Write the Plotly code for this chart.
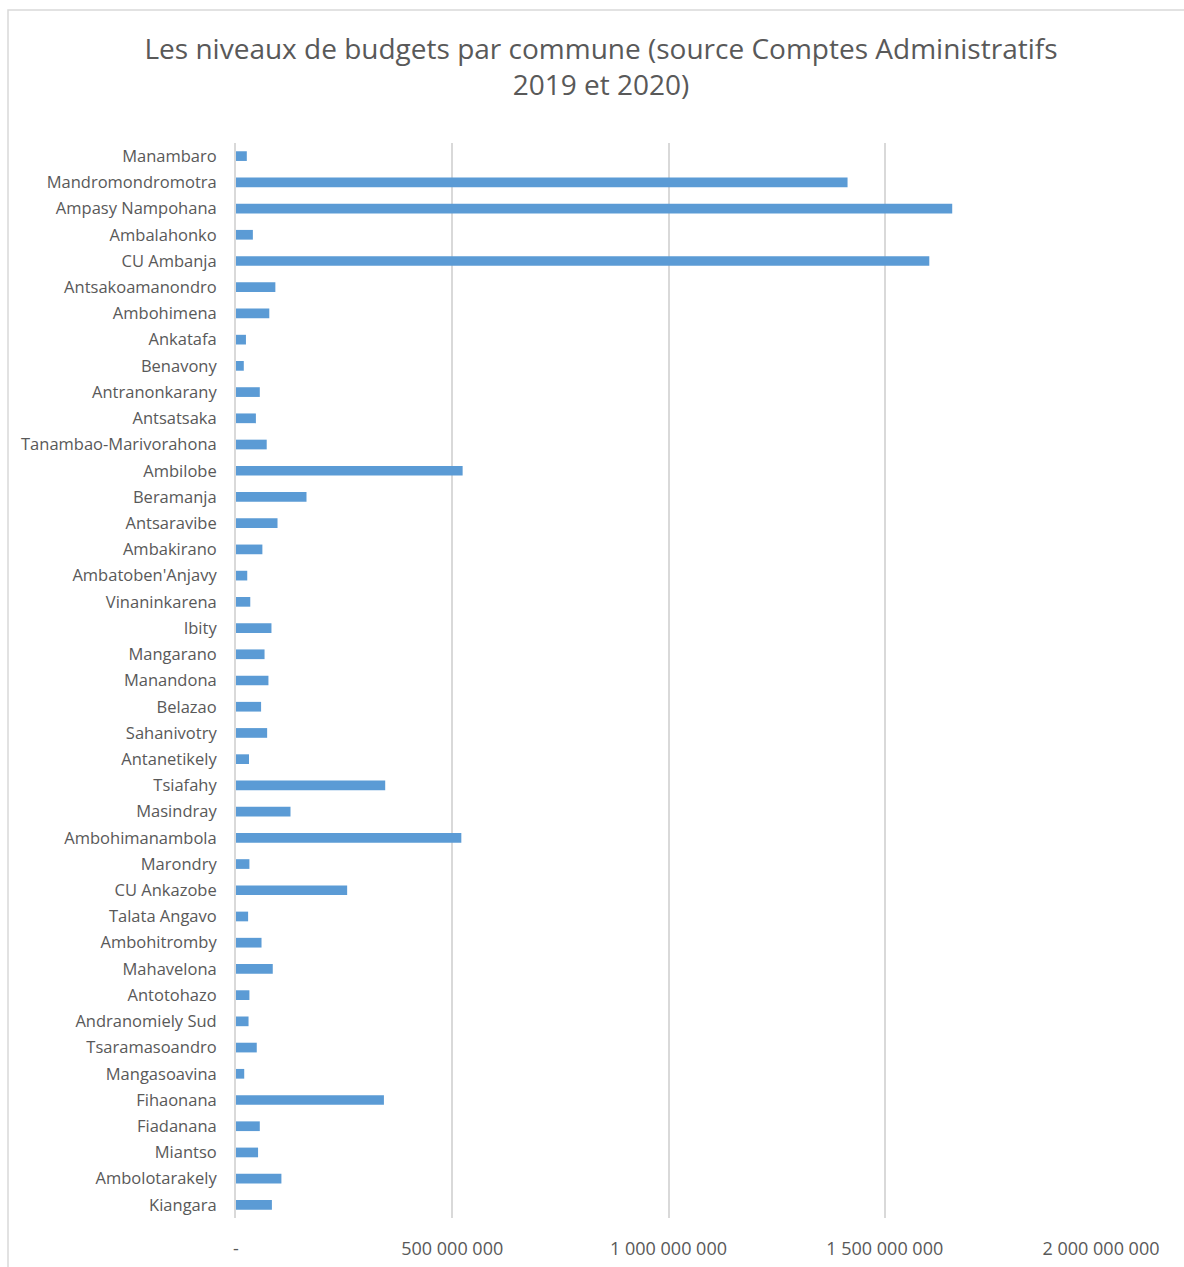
import plotly.graph_objects as go

communes = [
    "Manambaro", "Mandromondromotra", "Ampasy Nampohana", "Ambalahonko", "CU Ambanja",
    "Antsakoamanondro", "Ambohimena", "Ankatafa", "Benavony", "Antranonkarany",
    "Antsatsaka", "Tanambao-Marivorahona", "Ambilobe", "Beramanja", "Antsaravibe",
    "Ambakirano", "Ambatoben'Anjavy", "Vinaninkarena", "Ibity", "Mangarano",
    "Manandona", "Belazao", "Sahanivotry", "Antanetikely", "Tsiafahy",
    "Masindray", "Ambohimanambola", "Marondry", "CU Ankazobe", "Talata Angavo",
    "Ambohitromby", "Mahavelona", "Antotohazo", "Andranomiely Sud", "Tsaramasoandro",
    "Mangasoavina", "Fihaonana", "Fiadanana", "Miantso", "Ambolotarakely", "Kiangara",
]

budgets = [
    25e6, 1414e6, 1656e6, 39e6, 1603e6,
    91e6, 77e6, 23e6, 18e6, 55e6,
    46e6, 71e6, 524e6, 163e6, 96e6,
    61e6, 26e6, 33e6, 82e6, 66e6,
    75e6, 58e6, 72e6, 30e6, 345e6,
    126e6, 521e6, 31e6, 257e6, 28e6,
    59e6, 85e6, 31e6, 29e6, 48e6,
    19e6, 342e6, 55e6, 51e6, 105e6, 83e6,
]

tick_values = [0, 500e6, 1000e6, 1500e6, 2000e6]
tick_labels = ["-", "500 000 000", "1 000 000 000", "1 500 000 000", "2 000 000 000"]

title_text = "Les niveaux de budgets par commune (source Comptes Administratifs<br>2019 et 2020)"

FONT = "Open Sans, sans-serif"
TXT = "#595959"

fig = go.Figure(
    go.Bar(
        x=budgets,
        y=communes,
        orientation="h",
        marker=dict(color="#5B9BD5", line=dict(width=0)),
        width=0.37,
    )
)

W, H = 1184, 1267
L, R, T, B = 236, 83, 143, 49
pw = W - L - R
ph = H - T - B

fig.update_layout(
    width=W,
    height=H,
    margin=dict(l=L, r=R, t=T, b=B, pad=0, autoexpand=False),
    paper_bgcolor="white",
    plot_bgcolor="white",
    showlegend=False,
    font=dict(family=FONT, color=TXT),
    title=dict(
        text=title_text,
        x=601 / W,
        xref="container",
        xanchor="center",
        y=1 - 59 / H,
        yref="container",
        yanchor="top",
        font=dict(size=28, color=TXT, family=FONT),
    ),
    xaxis=dict(
        range=[0, 2000e6],
        tickvals=tick_values,
        ticktext=tick_labels,
        showgrid=True,
        gridcolor="#d9d9d9",
        gridwidth=1.5,
        zeroline=False,
        showline=False,
        ticks="outside",
        ticklen=14,
        tickcolor="rgba(0,0,0,0)",
        tickfont=dict(size=18, color=TXT, family=FONT),
        fixedrange=True,
        automargin=False,
    ),
    yaxis=dict(
        categoryorder="array",
        categoryarray=communes,
        autorange="reversed",
        showgrid=False,
        showline=True,
        linecolor="#d9d9d9",
        linewidth=2,
        ticks="outside",
        ticklen=14,
        tickcolor="rgba(0,0,0,0)",
        tickfont=dict(size=16.5, color=TXT, family=FONT),
        fixedrange=True,
        automargin=False,
    ),
    bargap=0.63,
)

# chart-area border (as in the source, partly cropped at right/bottom)
x0 = (8 - L) / pw
x1 = (1195 - L) / pw
y1 = (H - B - 10) / ph
y0 = (H - B - 1280) / ph
fig.add_shape(
    type="rect", xref="paper", yref="paper",
    x0=x0, x1=x1, y0=y0, y1=y1,
    line=dict(color="#d9d9d9", width=1.5),
    fillcolor="rgba(0,0,0,0)",
    layer="below",
)

fig.write_html("out.html")
